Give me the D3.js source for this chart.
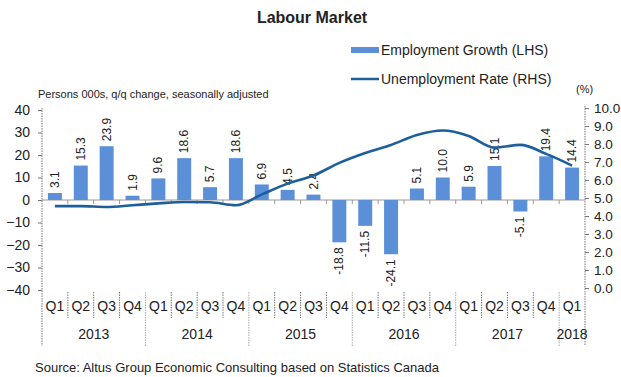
<!DOCTYPE html>
<html>
<head>
<meta charset="utf-8">
<script src="https://cdn.jsdelivr.net/npm/d3@7"></script>
<style>
  html, body { margin: 0; padding: 0; background: #fff; }
  svg { display: block; font-family: "Liberation Sans", Arial, sans-serif; }
</style>
</head>
<body>
<svg id="chart" width="621" height="377"></svg>
<script>
// Quarterly labour market data, 2013 Q1 – 2018 Q1
const quarters = ["Q1","Q2","Q3","Q4","Q1","Q2","Q3","Q4","Q1","Q2","Q3","Q4",
                  "Q1","Q2","Q3","Q4","Q1","Q2","Q3","Q4","Q1"];
const years = [2013,2013,2013,2013,2014,2014,2014,2014,2015,2015,2015,2015,
               2016,2016,2016,2016,2017,2017,2017,2017,2018];
const employmentGrowth = [3.1, 15.3, 23.9, 1.9, 9.6, 18.6, 5.7, 18.6, 6.9, 4.5, 2.4, -18.8,
                          -11.5, -24.1, 5.1, 10.0, 5.9, 15.1, -5.1, 19.4, 14.4];
const unemploymentRate = [4.55, 4.55, 4.5, 4.6, 4.7, 4.78, 4.76, 4.6, 5.2, 5.8, 6.25, 6.95,
                          7.5, 7.95, 8.5, 8.75, 8.45, 7.8, 7.95, 7.45, 6.8];
const leftTicks = [40, 30, 20, 10, 0, -10, -20, -30, -40];
const rightTicks = [10, 9, 8, 7, 6, 5, 4, 3, 2, 1, 0];

const keys = quarters.map((q, i) => years[i] + q);

const svg = d3.select("#chart");
const plotLeft = 42, plotRight = 585, plotTop = 110, plotBottom = 290;

const x = d3.scaleBand().domain(keys).range([plotLeft, plotRight]).paddingInner(0.46).paddingOuter(0.23);
const step = x.step();
const yL = d3.scaleLinear().domain([-40, 40]).range([plotBottom, plotTop]);
const yR = d3.scaleLinear().domain([0, 10]).range([plotBottom - 2, plotTop - 2]);

const barColor = "#5b8fd8";
const lineColor = "#1d5f9c";
const axisColor = "#777";

// Title
svg.append("text").attr("x", 312).attr("y", 23).attr("text-anchor", "middle")
  .attr("font-size", 16).attr("font-weight", "bold").attr("fill", "#222").text("Labour Market");

// Legend
svg.append("rect").attr("x", 351).attr("y", 47).attr("width", 28).attr("height", 6).attr("fill", barColor);
svg.append("text").attr("x", 381).attr("y", 55).attr("font-size", 14).attr("fill", "#222").text("Employment Growth (LHS)");
svg.append("line").attr("x1", 351).attr("x2", 379).attr("y1", 79).attr("y2", 79)
  .attr("stroke", lineColor).attr("stroke-width", 2.5);
svg.append("text").attr("x", 381).attr("y", 84).attr("font-size", 14).attr("fill", "#222").text("Unemployment Rate (RHS)");

// Axis captions
svg.append("text").attr("x", 38).attr("y", 98).attr("font-size", 11).attr("fill", "#222")
  .text("Persons 000s, q/q change, seasonally adjusted");
svg.append("text").attr("x", 576).attr("y", 93).attr("font-size", 11).attr("fill", "#222").text("(%)");

// Left axis
const gL = svg.append("g").attr("transform", `translate(${plotLeft},0)`)
  .call(d3.axisLeft(yL).tickValues(leftTicks).tickSize(4).tickPadding(8).tickFormat(d3.format("d")));
gL.select(".domain").remove();
gL.selectAll(".tick line").attr("stroke", axisColor);
gL.selectAll(".tick text").attr("font-size", 14).attr("fill", "#222").attr("font-family", "Liberation Sans, Arial, sans-serif");
svg.append("line").attr("x1", plotLeft).attr("x2", plotLeft).attr("y1", plotTop - 2).attr("y2", 346)
  .attr("stroke", axisColor).attr("stroke-dasharray", "1.5,1");

// Right axis
const gR = svg.append("g").attr("transform", `translate(${plotRight},0)`)
  .call(d3.axisRight(yR).tickValues(rightTicks).tickSize(4).tickPadding(5).tickFormat(d3.format(".1f")));
gR.select(".domain").remove();
gR.selectAll(".tick line").attr("stroke", axisColor);
gR.selectAll(".tick text").attr("font-size", 13.5).attr("fill", "#222").attr("font-family", "Liberation Sans, Arial, sans-serif");
svg.append("line").attr("x1", plotRight).attr("x2", plotRight).attr("y1", plotTop - 4).attr("y2", 346)
  .attr("stroke", axisColor).attr("stroke-dasharray", "1.5,1");

// Zero line with category ticks
svg.append("line").attr("x1", plotLeft).attr("x2", plotRight).attr("y1", yL(0)).attr("y2", yL(0))
  .attr("stroke", "#999").attr("stroke-width", 1);
keys.forEach((k, i) => {
  if (i === 0) return;
  const sx = x(k) + x.bandwidth() / 2 - step / 2;
  svg.append("line").attr("x1", sx).attr("x2", sx)
    .attr("y1", yL(0)).attr("y2", yL(0) + 4).attr("stroke", "#999");
});

// Bars
svg.append("g").selectAll("rect").data(employmentGrowth).join("rect")
  .attr("x", (d, i) => x(keys[i]))
  .attr("width", x.bandwidth())
  .attr("y", d => yL(Math.max(0, d)))
  .attr("height", d => Math.abs(yL(d) - yL(0)))
  .attr("fill", barColor);

// Bar value labels (rotated)
svg.append("g").selectAll("text").data(employmentGrowth).join("text")
  .attr("transform", (d, i) => {
    const cx = x(keys[i]) + x.bandwidth() / 2 + 4;
    const cy = d >= 0 ? yL(d) - 5 : yL(d) + 5;
    return `translate(${cx},${cy}) rotate(-90)`;
  })
  .attr("text-anchor", d => d >= 0 ? "start" : "end")
  .attr("font-size", 12).attr("fill", "#222")
  .text(d => d.toFixed(1));

// Unemployment rate line
const line = d3.line()
  .x((d, i) => x(keys[i]) + x.bandwidth() / 2)
  .y(d => yR(d))
  .curve(d3.curveMonotoneX);
svg.append("path").datum(unemploymentRate).attr("d", line)
  .attr("fill", "none").attr("stroke", lineColor).attr("stroke-width", 2.6);

// Category axis: quarters, separators, years
keys.forEach((k, i) => {
  const cx = x(k) + x.bandwidth() / 2;
  svg.append("text").attr("x", cx).attr("y", 311).attr("text-anchor", "middle")
    .attr("font-size", 14).attr("fill", "#222").text(quarters[i]);
  if (i > 0) {
    const sx = cx - step / 2;
    const yearBreak = years[i] !== years[i - 1];
    svg.append("line").attr("x1", sx).attr("x2", sx).attr("y1", 292).attr("y2", yearBreak ? 346 : 318)
      .attr("stroke", yearBreak ? "#aaa" : axisColor).attr("stroke-dasharray", "1.5,1");
  }
});
const yearGroups = d3.groups(keys.map((k, i) => ({ k, y: years[i] })), d => d.y);
yearGroups.forEach(([yr, items]) => {
  const x0 = x(items[0].k) + x.bandwidth() / 2;
  const x1 = x(items[items.length - 1].k) + x.bandwidth() / 2;
  svg.append("text").attr("x", (x0 + x1) / 2).attr("y", 339).attr("text-anchor", "middle")
    .attr("font-size", 14).attr("fill", "#222").text(yr);
});

// Source note
svg.append("text").attr("x", 35).attr("y", 372).attr("font-size", 13).attr("fill", "#222")
  .text("Source: Altus Group Economic Consulting  based on Statistics Canada");
</script>
</body>
</html>
